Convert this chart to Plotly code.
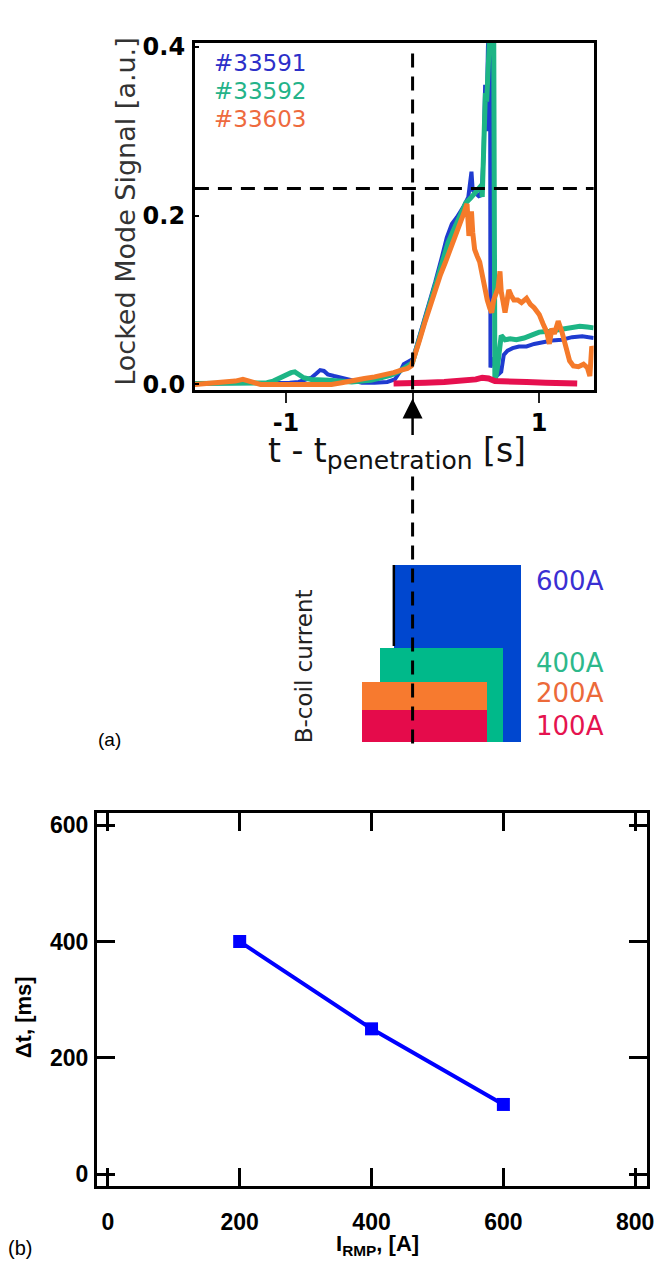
import plotly.graph_objects as go

W, H = 662, 1269

def px(x):
    return x / W

def py(y):
    return 1 - y / H

# ---------------- data: panel (a), locked mode signal ----------------
t_33591 = [-1.72, -1.2, -0.97, -0.9, -0.85, -0.8, -0.76, -0.73, -0.70, -0.67, -0.62, -0.57, -0.52,
           -0.46, -0.40, -0.30, -0.20, -0.14, -0.10, -0.07, -0.03, 0.0, 0.03, 0.08, 0.13, 0.18,
           0.23, 0.27, 0.31, 0.35, 0.40, 0.44, 0.465, 0.475, 0.50, 0.53, 0.55, 0.56, 0.573, 0.583,
           0.595, 0.605, 0.612, 0.615, 0.63, 0.66, 0.685, 0.70, 0.72, 0.75, 0.79, 0.84, 0.90,
           0.96, 1.02, 1.10, 1.18, 1.26, 1.34, 1.40, 1.43]
v_33591 = [0.001, 0.001, 0.002, 0.003, 0.006, 0.008, 0.013, 0.017, 0.016, 0.012, 0.010, 0.008, 0.006,
           0.004, 0.002, 0.002, 0.003, 0.006, 0.015, 0.024, 0.027, 0.030, 0.045, 0.070, 0.098, 0.122,
           0.150, 0.174, 0.190, 0.198, 0.210, 0.222, 0.252, 0.230, 0.226, 0.222, 0.240, 0.270, 0.355, 0.300,
           0.400, 0.450, 0.450, 0.020, 0.030, 0.028, 0.013, 0.015, 0.035, 0.040, 0.043, 0.045, 0.045,
           0.048, 0.050, 0.052, 0.053, 0.056, 0.057, 0.056, 0.055]

t_33592 = [-1.72, -1.15, -1.1, -1.05, -1.0, -0.96, -0.93, -0.90, -0.86, -0.80, -0.74, -0.66, -0.58,
           -0.48, -0.40, -0.33, -0.25, -0.17, -0.10, -0.04, 0.0, 0.03, 0.08, 0.13, 0.18, 0.23, 0.28,
           0.33, 0.38, 0.42, 0.46, 0.50, 0.53, 0.545, 0.55, 0.56, 0.575, 0.585, 0.60, 0.62, 0.64,
           0.65, 0.67, 0.70, 0.73, 0.77, 0.82, 0.88, 0.95, 1.0, 1.08, 1.16, 1.24, 1.32, 1.38, 1.43]
v_33592 = [0.001, 0.002, 0.004, 0.008, 0.011, 0.014, 0.015, 0.012, 0.008, 0.006, 0.005, 0.005, 0.004,
           0.003, 0.004, 0.005, 0.008, 0.011, 0.016, 0.021, 0.026, 0.042, 0.068, 0.095, 0.118, 0.145, 0.168,
           0.185, 0.200, 0.215, 0.221, 0.228, 0.232, 0.236, 0.222, 0.260, 0.345, 0.335, 0.450, 0.450, 0.450,
           0.003, 0.020, 0.058, 0.053, 0.054, 0.053, 0.055, 0.059, 0.062, 0.063, 0.065, 0.067, 0.069, 0.068, 0.067]

t_33603 = [-1.72, -1.6, -1.48, -1.40, -1.34, -1.30, -1.25, -1.2, -1.0, -0.8, -0.64, -0.56, -0.50,
           -0.44, -0.38, -0.30, -0.23, -0.15, -0.09, -0.04, -0.01, 0.02, 0.05, 0.10, 0.14, 0.18, 0.22,
           0.26, 0.30, 0.34, 0.38, 0.41, 0.43, 0.438, 0.445, 0.455, 0.465, 0.475, 0.49, 0.51, 0.53,
           0.55, 0.57, 0.59, 0.61, 0.625, 0.64, 0.66, 0.675, 0.69, 0.70, 0.715, 0.73, 0.745, 0.76,
           0.78, 0.80, 0.83, 0.86, 0.90, 0.93, 0.96, 1.0, 1.03, 1.06, 1.08, 1.10, 1.12, 1.15, 1.18,
           1.21, 1.24, 1.27, 1.31, 1.35, 1.38, 1.40, 1.415, 1.43]
v_33603 = [0.000, 0.001, 0.003, 0.004, 0.006, 0.004, 0.001, 0.000, 0.000, 0.000, 0.000, 0.002, 0.004,
           0.005, 0.007, 0.009, 0.011, 0.014, 0.017, 0.019, 0.022, 0.035, 0.050, 0.075, 0.095, 0.114, 0.130,
           0.145, 0.160, 0.176, 0.194, 0.205, 0.214, 0.200, 0.176, 0.185, 0.205, 0.180, 0.160, 0.152, 0.145,
           0.130, 0.114, 0.100, 0.090, 0.085, 0.100, 0.108, 0.114, 0.134, 0.110, 0.098, 0.085, 0.098, 0.112,
           0.105, 0.100, 0.100, 0.097, 0.102, 0.095, 0.091, 0.083, 0.072, 0.062, 0.048, 0.066, 0.060, 0.075, 0.062,
           0.045, 0.028, 0.022, 0.021, 0.024, 0.020, 0.010, 0.045, 0.040]

t_red = [-0.15, -0.05, 0.10, 0.25, 0.40, 0.50, 0.55, 0.60, 0.65, 0.75, 0.90, 1.05, 1.20, 1.30]
v_red = [0.001, 0.002, 0.002, 0.003, 0.004, 0.006, 0.008, 0.007, 0.004, 0.003, 0.003, 0.002, 0.002, 0.001]

shots = ["#33591", "#33592", "#33603"]
t_threshold = 0.232

# B-coil current pulses (time window in s, relative height)
coil_labels = ["600A", "400A", "200A", "100A"]
coil_start = [-0.148, -0.258, -0.398, -0.398]
coil_end = [0.859, 0.711, 0.586, 0.586]
coil_height = [1.0, 0.533, 0.339, 0.183]

# ---------------- data: panel (b) ----------------
i_rmp = [200, 400, 600]
delta_t = [400, 250, 120]

# ---------------- styles ----------------
line_cols = ["#1f3bd0", "#1db585", "#f57a2a"]
red_col = "#e6104f"
rect_cols = ["#0047cf", "#00b98a", "#f77a2f", "#e50b4b"]
lab_cols = ["#3a2fd2", "#2db88b", "#ec6a3a", "#e5134f"]
leg_cols = ["#2c2fc9", "#24b389", "#ee6a3e"]
DV = "DejaVu Sans"
LS = "Liberation Sans"

fig = go.Figure()

series = [(t_33591, v_33591), (t_33592, v_33592), (t_33603, v_33603)]
widths = [4, 5, 5]
for (t, v), c, wdt, name in zip(series, line_cols, widths, shots):
    fig.add_trace(go.Scatter(x=t, y=v, mode="lines", line=dict(color=c, width=wdt),
                             name=name, xaxis="x", yaxis="y", showlegend=False))
fig.add_trace(go.Scatter(x=t_red, y=v_red, mode="lines", line=dict(color=red_col, width=6),
                         xaxis="x", yaxis="y", showlegend=False))

# coil rectangles as bars
for s, e, h, c in zip(coil_start, coil_end, coil_height, rect_cols):
    fig.add_trace(go.Bar(x=[(s + e) / 2], y=[h], width=[e - s], base=0,
                         marker=dict(color=c, line=dict(width=0)),
                         xaxis="x2", yaxis="y2", showlegend=False))
fig.add_trace(go.Scatter(x=[coil_start[0], coil_start[0]], y=[coil_height[1] + 0.01, coil_height[0]],
                         mode="lines", line=dict(color="black", width=2.5),
                         xaxis="x2", yaxis="y2", showlegend=False))

# panel b
fig.add_trace(go.Scatter(x=i_rmp, y=delta_t, mode="lines+markers",
                         line=dict(color="#0000ff", width=4),
                         marker=dict(symbol="square", size=13, color="#0000ff"),
                         xaxis="x3", yaxis="y3", showlegend=False))

xr = [-1.719, 1.430]
top_dom_x = [px(197), px(600)]

fig.update_layout(
    width=W, height=H, margin=dict(l=0, r=0, t=0, b=0),
    paper_bgcolor="white", plot_bgcolor="white",
    barmode="overlay", bargap=0,
    xaxis=dict(domain=top_dom_x, range=xr, anchor="y",
               tickvals=[-1, 0, 1], ticktext=["-1", "", "1"],
               ticks="outside", ticklen=10, tickwidth=2, tickcolor="#222",
               tickfont=dict(family=DV, size=24, color="black", weight="bold"),
               ticklabelstandoff=0,
               showline=True, linecolor="black", linewidth=3, mirror=True,
               showgrid=False, zeroline=False),
    yaxis=dict(domain=[py(386), py(34)], range=[-0.006, 0.405], anchor="x",
               tickvals=[0, 0.2, 0.4], ticktext=["0.0", "0.2", "0.4"],
               ticks="inside", ticklen=4, tickwidth=2, tickcolor="black",
               tickfont=dict(family=DV, size=24, color="black", weight="bold"),
               ticklabelstandoff=2,
               showline=True, linecolor="black", linewidth=3, mirror=True,
               showgrid=False, zeroline=False),
    xaxis2=dict(domain=top_dom_x, range=xr, anchor="y2", visible=False),
    yaxis2=dict(domain=[py(744), py(564)], range=[0, 1.0], anchor="x2", visible=False),
    xaxis3=dict(domain=[px(98), px(654)], range=[-16.5, 818], anchor="y3",
                tickvals=[0, 200, 400, 600, 800],
                ticks="inside", ticklen=18, tickwidth=3, tickcolor="black",
                tickfont=dict(family=LS, size=23, color="black", weight="bold"),
                ticklabelstandoff=13,
                showline=True, linecolor="black", linewidth=3, mirror="ticks",
                showgrid=False, zeroline=False),
    yaxis3=dict(domain=[py(1194), py(816)], range=[-20.3, 620.3], anchor="x3",
                tickvals=[0, 200, 400, 600],
                ticks="inside", ticklen=18, tickwidth=3, tickcolor="black",
                tickfont=dict(family=LS, size=23, color="black", weight="bold"),
                ticklabelstandoff=1,
                showline=True, linecolor="black", linewidth=3, mirror="ticks",
                showgrid=False, zeroline=False),
)

dash = "14px,9px"
fig.add_shape(type="line", xref="x", yref="y domain", x0=0, x1=0, y0=0, y1=0.985,
              line=dict(color="black", width=3, dash=dash))
fig.add_shape(type="line", xref="x domain", yref="y", x0=0, x1=1, y0=t_threshold, y1=t_threshold,
              line=dict(color="black", width=3, dash=dash))
fig.add_shape(type="line", xref="x2", yref="paper", x0=0, x1=0, y0=py(745), y1=py(472),
              line=dict(color="black", width=3, dash=dash))


def txt(x, y, s, font, angle=0, xa="center", ya="middle"):
    return dict(x=px(x), y=py(y), xref="paper", yref="paper", text=s, textangle=angle,
                xanchor=xa, yanchor=ya, showarrow=False, font=font)


ann = []
# arrow
ann.append(dict(x=0, xref="x", y=py(395), yref="paper", ax=0, ay=38, axref="pixel", ayref="pixel",
                showarrow=True, arrowhead=2, arrowsize=1.6, arrowwidth=2.5, arrowcolor="black", text=""))
# legend texts
for i, (s, c) in enumerate(zip(shots, leg_cols)):
    ann.append(txt(214, 55 + 28.5 * i, s, dict(family=DV, size=23, color=c), xa="left"))
# axis titles panel a
ann.append(txt(126, 205, "Locked Mode Signal [a.u.]", dict(family=DV, size=27, color="#333"), angle=-90))
ann.append(txt(401, 450, "t - t<sub><span style='font-size:25px'>penetration</span></sub> [s]",
               dict(family=DV, size=33, color="#111")))
# coil labels
for lab, c, yy in zip(coil_labels, lab_cols, [580, 663, 694, 727]):
    ann.append(txt(540, yy, lab, dict(family=DV, size=26, color=c), xa="left"))
ann.append(txt(307, 667, "B-coil current", dict(family=DV, size=23, color="#222"), angle=-90))
ann.append(txt(111, 741, "(a)", dict(family=LS, size=19, color="black")))
# panel b titles
ann.append(txt(24, 1023, "Δt, [ms]", dict(family=LS, size=22, color="black", weight="bold"), angle=-90))
ann.append(txt(382, 1254, "I<sub>RMP</sub>, [A]", dict(family=LS, size=22, color="black", weight="bold")))
ann.append(txt(20, 1257, "(b)", dict(family=LS, size=20, color="black")))
fig.update_layout(annotations=ann)

fig.write_html("out.html")
